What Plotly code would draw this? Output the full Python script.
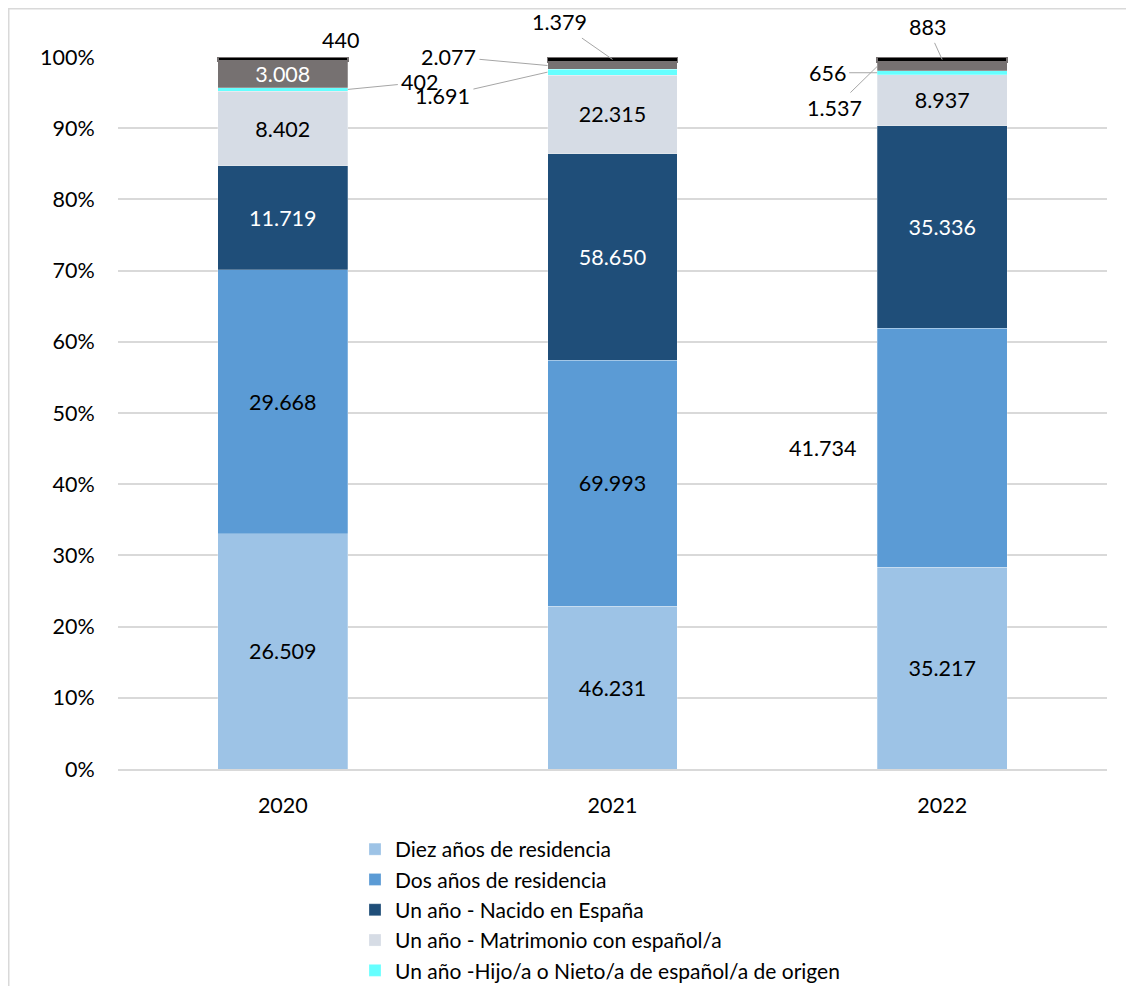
import plotly.graph_objects as go

years = ["2020", "2021", "2022"]
series_names = [
    "Diez años de residencia",
    "Dos años de residencia",
    "Un año - Nacido en España",
    "Un año - Matrimonio con español/a",
    "Un año -Hijo/a o Nieto/a de español/a de origen",
    "Otros",
    "Otros (2)",
]
diez = [26509, 46231, 35217]
dos = [29668, 69993, 41734]
nacido = [11719, 58650, 35336]
matrimonio = [8402, 22315, 8937]
hijo = [402, 1691, 656]
gris = [3008, 2077, 1537]
negro = [440, 1379, 883]

colors = ["#9DC3E6", "#5B9BD5", "#1F4E79", "#D6DCE5", "#66FFFF", "#767171", "#000000"]
text_colors = ["#000000", "#000000", "#FFFFFF", "#000000", "#000000", "#FFFFFF", "#000000"]

all_series = [diez, dos, nacido, matrimonio, hijo, gris, negro]
totals = [sum(s[i] for s in all_series) for i in range(3)]

FONT = "Lato"
FS = 21.5
LFS = 21

def fmt(v):
    return f"{v:,}".replace(",", ".")

# which labels are drawn inside the bar
inside = [
    [True, True, True],
    [True, True, False],
    [True, True, True],
    [True, True, True],
    [False, False, False],
    [True, False, False],
    [False, False, False],
]

fig = go.Figure()
for k, (name, vals) in enumerate(zip(series_names, all_series)):
    pct = [v / t * 100 for v, t in zip(vals, totals)]
    fig.add_trace(go.Bar(
        x=years, y=pct, name=name,
        marker=dict(color=colors[k],
                    line=dict(color="#767171" if k == 6 else "rgba(255,255,255,0.5)",
                              width=1.5 if k == 6 else 0.5)),
        text=[fmt(v) if inside[k][i] else "" for i, v in enumerate(vals)],
        textposition="inside", insidetextanchor="middle",
        constraintext="none", textangle=0,
        textfont=dict(family=FONT, size=FS, color=text_colors[k]),
        showlegend=k < 5,
        hoverinfo="skip",
    ))

def bounds(k, i):
    lo = sum(all_series[j][i] for j in range(k)) / totals[i] * 100
    hi = lo + all_series[k][i] / totals[i] * 100
    return lo, hi

def mid(k, i):
    lo, hi = bounds(k, i)
    return (lo + hi) / 2

LEAD = "#A6A6A6"
ann = []
# 2020 (category index 0)
ann.append(dict(x=0, y=mid(4, 0), xshift=65, ax=72, ay=-7, text=fmt(hijo[0])))
ann.append(dict(x=0, y=mid(6, 0), xshift=58, yshift=19, showarrow=False, text=fmt(negro[0])))
# 2021
ann.append(dict(x=1, y=mid(5, 1), xshift=-65, ax=-99, ay=-9, text=fmt(gris[1])))
ann.append(dict(x=1, y=mid(4, 1), xshift=-65, ax=-105, ay=24, text=fmt(hijo[1])))
ann.append(dict(x=1, y=mid(6, 1), ax=-53, ay=-37, text=fmt(negro[1])))
# 2022
ann.append(dict(x=2, y=mid(4, 2), xshift=-65, ax=-50, ay=0, text=fmt(hijo[2])))
ann.append(dict(x=2, y=mid(5, 2), xshift=-65, ax=-43, ay=42, text=fmt(gris[2])))
ann.append(dict(x=2, y=mid(6, 2), ax=-15, ay=-33, text=fmt(negro[2])))
ann.append(dict(x=2, y=mid(1, 2), xshift=-120, showarrow=False, text=fmt(dos[2])))

for a in ann:
    a.setdefault("showarrow", True)
    a.update(xref="x", yref="y", font=dict(family=FONT, size=FS, color="#000000"))
    if a["showarrow"]:
        a.update(arrowhead=0, arrowwidth=1, arrowcolor=LEAD, standoff=0, startstandoff=2)
    fig.add_annotation(**a)

# page body adds an 8px offset; figure sized to fit the window
OFF = 8
W, H = 1134 - 2 * OFF, 994 - 2 * OFF
L, T = 118 - OFF, 57 - OFF
R = W - (1107 - OFF)
B = H - (769 - OFF)
pw, ph = W - L - R, H - T - B
def px_x(p):
    return (p - OFF - L) / pw
def px_y(p):
    return (H - B - (p - OFF)) / ph

fig.add_shape(type="rect", xref="paper", yref="paper",
              x0=px_x(OFF + 0.75), x1=px_x(1160), y0=px_y(1020), y1=px_y(OFF + 0.75),
              line=dict(color="#D9D9D9", width=1.5), fillcolor="rgba(0,0,0,0)", layer="below")

fig.update_layout(
    width=W, height=H,
    margin=dict(l=L, r=R, t=T, b=B, autoexpand=False),
    barmode="stack", bargap=0.606,
    plot_bgcolor="white", paper_bgcolor="white",
    font=dict(family=FONT, size=FS, color="#000000"),
    showlegend=True,
    legend=dict(orientation="v", traceorder="normal",
                xref="container", yref="container",
                x=347 / W, xanchor="left",
                y=1 - 821 / H, yanchor="top",
                font=dict(family=FONT, size=LFS, color="#000000"),
                bgcolor="rgba(0,0,0,0)"),
    xaxis=dict(type="category", range=[-0.5, 2.5], showgrid=False, showline=True,
               linecolor="#D9D9D9", linewidth=1.5, automargin=False,
               ticks="outside", ticklen=16, tickcolor="rgba(0,0,0,0)",
               tickfont=dict(family=FONT, size=FS)),
    yaxis=dict(range=[0, 100], dtick=10, ticksuffix="%", automargin=False,
               showgrid=True, gridcolor="#D9D9D9", gridwidth=1.5,
               zeroline=False, showline=False,
               ticks="outside", ticklen=18, tickcolor="rgba(0,0,0,0)",
               tickfont=dict(family=FONT, size=FS)),
)

fig.write_html("out.html")
